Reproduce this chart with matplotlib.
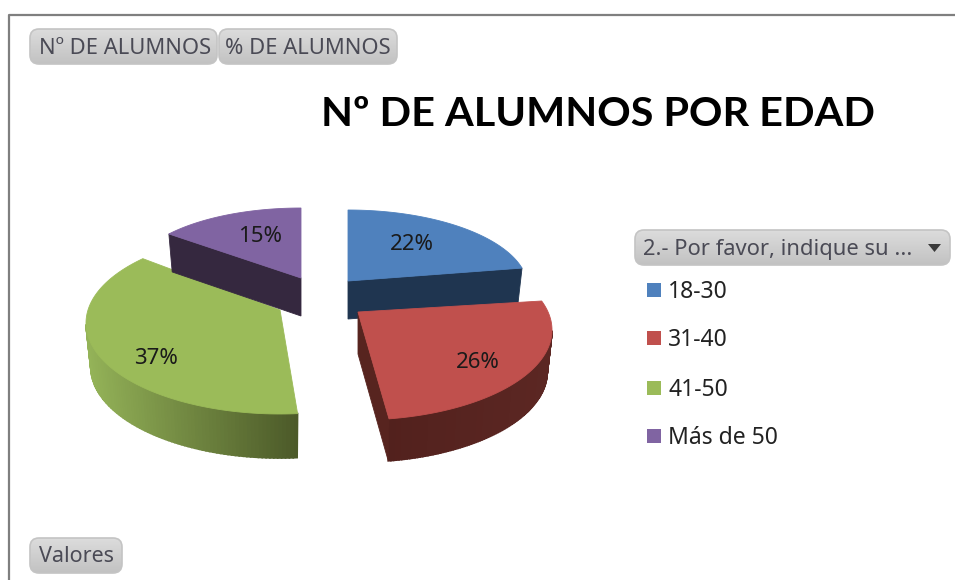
import numpy as np
import matplotlib
matplotlib.use("Agg")
import matplotlib.pyplot as plt
from matplotlib.colors import to_rgb
from matplotlib.patches import FancyBboxPatch

# datos del grafico
categorias = ["18-30", "31-40", "41-50", "Más de 50"]
porcentajes = [22, 26, 37, 15]
titulo = "Nº DE ALUMNOS POR EDAD"
filtro = "2.- Por favor, indique su ..."
botones = ["Nº DE ALUMNOS", "% DE ALUMNOS", "Valores"]

colores = ["#4f81bd", "#c0504d", "#9bbb59", "#8064a2"]

# geometria de cada porcion en pixeles (centro, radios, profundidad)
apex_x = [348, 358, 280, 301]
apex_y = [281, 312, 310, 278]
centro_dy = [7, 18, 13, 0]
radio_x = [180, 194, 194, 170]
radio_y = [78, 90, 91, 70]
ajuste_ini = [0, -8, 2, 3]
ajuste_fin = [-4, -2, 9, 0]
profundidad = [38, 42, 44, 38]
lado_oscuro = ["#1f3550", "#57241f", None, "#35283f"]
borde_izq = [None, "#5c2723", "#94b358", None]
borde_der = [None, "#52211d", "#4c5a29", None]
etiqueta_x = [412, 478, 156, 260]
etiqueta_y = [245, 362, 358, 237]


def mezcla(c1, c2, f):
    a, b = np.array(to_rgb(c1)), np.array(to_rgb(c2))
    return tuple(a + (b - a) * f)


def boton(ax, x0, y0, x1, y1, arriba="#dcdcdc", abajo="#c2c2c2"):
    # boton redondeado con degrade vertical
    caja = FancyBboxPatch((x0 + 6, y0 + 6), x1 - x0 - 12, y1 - y0 - 12,
                          boxstyle="round,pad=6,rounding_size=9",
                          fc="none", ec="#c4c4c4", lw=1.2, zorder=3)
    ax.add_patch(caja)
    grad = np.linspace(0, 1, 40)[:, None]
    cmap = matplotlib.colors.LinearSegmentedColormap.from_list("b", [arriba, abajo])
    im = ax.imshow(grad, cmap=cmap, extent=(x0, x1, y1, y0), aspect="auto", zorder=2)
    im.set_clip_path(caja)


fig = plt.figure(figsize=(9.55, 5.8), dpi=100)
ax = fig.add_axes([0, 0, 1, 1])

# marco
ax.plot([8.5, 8.5, 955], [580, 14.5, 14.5], color="#7f7f7f", lw=1.6, zorder=1)

# porciones, de atras hacia adelante
fin = np.cumsum(porcentajes) / sum(porcentajes) * 360
ini = np.concatenate([[0], fin[:-1]])
for i in [3, 0, 2, 1]:
    t = np.radians(np.linspace(ini[i] + ajuste_ini[i], fin[i] + ajuste_fin[i], 120))
    cx = apex_x[i]
    cy = apex_y[i] + centro_dy[i]
    arc_x = cx + radio_x[i] * np.sin(t)
    arc_y = cy - radio_y[i] * np.cos(t)
    low_x = cx + 0.975 * radio_x[i] * np.sin(t)
    low_y = arc_y + profundidad[i]
    d = profundidad[i]

    # pared curva con degrade
    if borde_der[i] is not None:
        frente = np.where(np.cos(t) < 0)[0]
        x_min, x_max = arc_x[frente].min(), arc_x[frente].max()
        for j in frente[:-1]:
            f = (arc_x[j] - x_min) / (x_max - x_min)
            if i == 1:
                col = mezcla(borde_der[i], borde_izq[i], f)
            else:
                col = mezcla(borde_izq[i], borde_der[i], f)
            ax.fill([arc_x[j], arc_x[j + 1], low_x[j + 1], low_x[j]],
                    [arc_y[j], arc_y[j + 1], low_y[j + 1], low_y[j]],
                    color=col, lw=1.2, zorder=4 + i)

    # pared recta
    if lado_oscuro[i] is not None:
        k = 0 if i == 3 else -1
        ax.fill([apex_x[i], arc_x[k], low_x[k], apex_x[i]],
                [apex_y[i], arc_y[k], low_y[k], apex_y[i] + d],
                color=lado_oscuro[i], lw=0.6, zorder=4 + i)

    # tapa
    ax.fill(np.r_[apex_x[i], arc_x], np.r_[apex_y[i], arc_y],
            color=colores[i], lw=0.6, zorder=4 + i)

for i in range(len(porcentajes)):
    ax.text(etiqueta_x[i], etiqueta_y[i], "%d%%" % porcentajes[i], fontsize=16,
            family="Noto Sans", color="#1a1a1a", ha="center", va="center", zorder=10)

ax.text(598, 114, titulo, fontsize=29.8, fontweight="bold", family="Lato",
        color="black", ha="center", va="center", zorder=10)

# botones
boton(ax, 30, 29, 217, 64)
boton(ax, 219, 29, 397, 64)
boton(ax, 30, 538, 122, 573)
boton(ax, 635, 230, 950, 265)
ax.text(125, 49, botones[0], fontsize=15.8, family="Noto Sans", color="#4a4a55",
        ha="center", va="center", zorder=10)
ax.text(308, 49, botones[1], fontsize=15.8, family="Noto Sans", color="#4a4a55",
        ha="center", va="center", zorder=10)
ax.text(76, 557, botones[2], fontsize=15.5, family="Noto Sans", color="#4a4a55",
        ha="center", va="center", zorder=10)
ax.text(643, 250, filtro, fontsize=15.8, family="Noto Sans", color="#4a4a55",
        ha="left", va="center", zorder=10)
ax.fill([928, 941, 934.5], [244, 244, 252], color="#3a3a3a", lw=0, zorder=10)

# leyenda
filas_y = [290, 338, 388, 436]
for i in range(len(categorias)):
    ax.scatter([654], [filas_y[i]], marker="s", s=95, color=colores[i], lw=0, zorder=10)
    ax.text(668, filas_y[i] + 2, categorias[i], fontsize=16.5, family="Noto Sans",
            color="#222222", ha="left", va="center", zorder=10)

ax.set_xlim(0, 955)
ax.set_ylim(580, 0)
ax.axis("off")
fig.savefig("out.png", dpi=100)
